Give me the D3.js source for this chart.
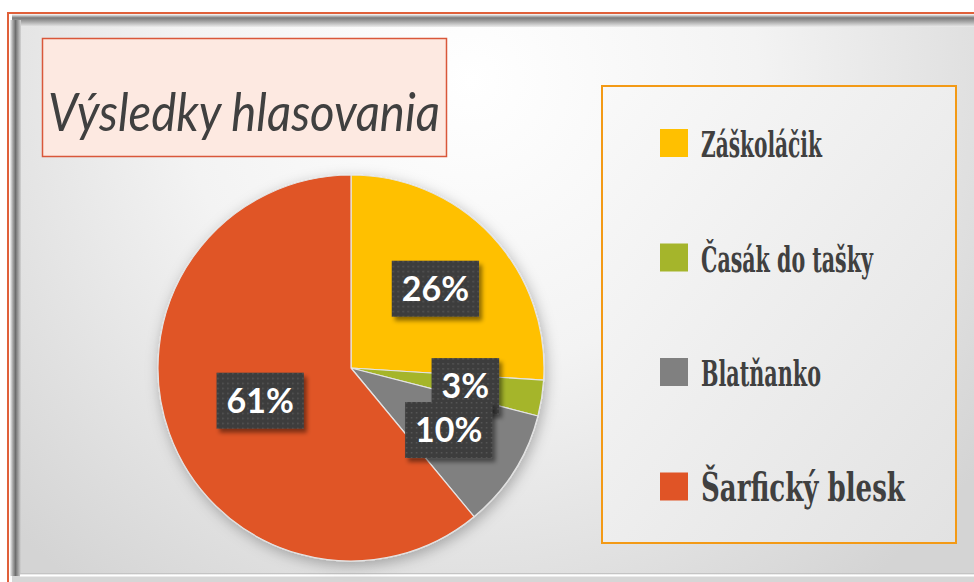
<!DOCTYPE html>
<html>
<head>
<meta charset="utf-8">
<script src="https://cdn.jsdelivr.net/npm/d3@7"></script>
<style>
  html, body { margin: 0; padding: 0; background: #fff; }
  svg { display: block; }
</style>
</head>
<body>
<div id="chart"></div>
<script>
const categories = ["Záškoláčik", "Časák do tašky", "Blatňanko", "Šarfický blesk"];
const values = [26, 3, 10, 61];
const chartTitle = "Výsledky hlasovania";

const dims = { width: 974, height: 582 };
const pieDims = { cx: 351, cy: 368, radius: 193 };
const legendDims = { x: 602, y: 86, w: 354, h: 457, swatch: 28, left: 58, first: 71, step: 114.5 };

const colorScale = d3.scaleOrdinal()
  .domain(categories)
  .range(["#FFC000", "#A5B52B", "#808080", "#E05426"]);

const svg = d3.select("#chart").append("svg")
  .attr("width", dims.width).attr("height", dims.height)
  .attr("xmlns", "http://www.w3.org/2000/svg");

const defs = svg.append("defs");

// squeeze a text horizontally so it spans the given width
function fitWidth(sel, x, y, target) {
  sel.each(function(d, i) {
    const w = this.getComputedTextLength();
    const tw = typeof target === "function" ? target(d, i) : target;
    d3.select(this).attr("x", 0).attr("y", 0)
      .attr("transform", `translate(${x} ${y}) scale(${tw / w} 1)`);
  });
}

// panel background
const bg = defs.append("radialGradient").attr("id", "bgGrad")
  .attr("gradientUnits", "userSpaceOnUse")
  .attr("cx", 470).attr("cy", 80).attr("r", 640);
bg.append("stop").attr("offset", "0%").attr("stop-color", "#ffffff");
bg.append("stop").attr("offset", "45%").attr("stop-color", "#f3f3f3");
bg.append("stop").attr("offset", "100%").attr("stop-color", "#d4d4d4");

const topBevel = defs.append("linearGradient").attr("id", "topBevel")
  .attr("x1", 0).attr("y1", 0).attr("x2", 0).attr("y2", 1);
topBevel.append("stop").attr("offset", "0%").attr("stop-color", "#ffffff");
topBevel.append("stop").attr("offset", "30%").attr("stop-color", "#7a7a7a");
topBevel.append("stop").attr("offset", "55%").attr("stop-color", "#a0a0a0");
topBevel.append("stop").attr("offset", "100%").attr("stop-color", "#ececec", 0);

const leftBevel = defs.append("linearGradient").attr("id", "leftBevel")
  .attr("x1", 0).attr("y1", 0).attr("x2", 1).attr("y2", 0);
leftBevel.append("stop").attr("offset", "0%").attr("stop-color", "#f4f4f4");
leftBevel.append("stop").attr("offset", "25%").attr("stop-color", "#a8a8a8");
leftBevel.append("stop").attr("offset", "50%").attr("stop-color", "#6e6e6e");
leftBevel.append("stop").attr("offset", "100%").attr("stop-color", "#d4d4d4");

const legendGrad = defs.append("linearGradient").attr("id", "legendGrad")
  .attr("x1", 0).attr("y1", 0).attr("x2", 1).attr("y2", 1);
legendGrad.append("stop").attr("offset", "0%").attr("stop-color", "#f9f9f9");
legendGrad.append("stop").attr("offset", "100%").attr("stop-color", "#e2e2e2");

const pieShadow = defs.append("filter").attr("id", "pieShadow")
  .attr("x", "-20%").attr("y", "-20%").attr("width", "140%").attr("height", "140%");
pieShadow.append("feDropShadow").attr("dx", 2).attr("dy", 4)
  .attr("stdDeviation", 7).attr("flood-color", "#000").attr("flood-opacity", 0.28);

const boxShadow = defs.append("filter").attr("id", "boxShadow")
  .attr("x", "-20%").attr("y", "-20%").attr("width", "150%").attr("height", "150%");
boxShadow.append("feDropShadow").attr("dx", 3).attr("dy", 4)
  .attr("stdDeviation", 2).attr("flood-color", "#000").attr("flood-opacity", 0.45);

const dots = defs.append("pattern").attr("id", "dots")
  .attr("patternUnits", "userSpaceOnUse").attr("width", 5).attr("height", 5);
dots.append("rect").attr("width", 5).attr("height", 5).attr("fill", "#3d3d3d");
dots.append("rect").attr("x", 2).attr("y", 2).attr("width", 1.5).attr("height", 1.5)
  .attr("fill", "#595959");

// frame
svg.append("rect").attr("x", 9).attr("y", 13).attr("width", dims.width).attr("height", dims.height)
  .attr("fill", "#ffffff");
svg.append("rect").attr("x", 12).attr("y", 17).attr("width", dims.width).attr("height", 559)
  .attr("fill", "url(#bgGrad)");
svg.append("rect").attr("x", 12).attr("y", 14).attr("width", dims.width).attr("height", 13)
  .attr("fill", "url(#topBevel)");
svg.append("rect").attr("x", 10).attr("y", 20).attr("width", 11).attr("height", 556)
  .attr("fill", "url(#leftBevel)");
svg.append("rect").attr("x", 12).attr("y", 576).attr("width", dims.width).attr("height", 6)
  .attr("fill", "#d6d6d6");
svg.append("line").attr("x1", 20).attr("x2", dims.width).attr("y1", 573.5).attr("y2", 573.5)
  .attr("stroke", "#c4c4c4").attr("stroke-width", 1);
svg.append("line").attr("x1", 20).attr("x2", dims.width).attr("y1", 575.5).attr("y2", 575.5)
  .attr("stroke", "#ffffff").attr("stroke-width", 2);
svg.append("path").attr("d", `M8,${dims.height} V13 H${dims.width}`)
  .attr("fill", "none").attr("stroke", "#E0603A").attr("stroke-width", 2);

// title
svg.append("rect").attr("x", 42.5).attr("y", 38.5).attr("width", 404).attr("height", 118)
  .attr("fill", "#FDE9E1").attr("stroke", "#D9573A").attr("stroke-width", 1.5);
svg.append("text")
  .attr("font-family", "Lato, 'Open Sans', sans-serif").attr("font-style", "italic")
  .attr("font-size", 52).attr("fill", "#404040")
  .text(chartTitle)
  .call(fitWidth, 48, 131, 392);

// pie
const pie = d3.pie().sort(null).value(d => d.value);
const arcs = pie(categories.map((c, i) => ({ name: c, value: values[i] })));
const total = d3.sum(values);
const arc = d3.arc().innerRadius(0).outerRadius(pieDims.radius);
const biggest = d3.max(values);

const pieG = svg.append("g").attr("transform", `translate(${pieDims.cx} ${pieDims.cy})`);
pieG.append("g").attr("filter", "url(#pieShadow)")
  .selectAll("path").data(arcs).join("path")
    .attr("d", arc)
    .attr("fill", d => colorScale(d.data.name))
    .attr("stroke", "#e4e4e4").attr("stroke-width", 1.2).attr("stroke-linejoin", "round");

const labelG = pieG.append("g");
arcs.forEach(d => {
  const k = d.data.value === biggest ? 0.5 : 0.6;
  const [lx, ly] = d3.arc().innerRadius(pieDims.radius * k).outerRadius(pieDims.radius * k).centroid(d);
  const g = labelG.append("g").attr("transform", `translate(${lx} ${ly})`);
  const box = g.append("rect").attr("fill", "url(#dots)").attr("filter", "url(#boxShadow)");
  const t = g.append("text")
    .attr("text-anchor", "middle").attr("dy", "0.36em")
    .attr("font-family", "Lato, 'Open Sans', sans-serif").attr("font-weight", "bold")
    .attr("font-size", 34).attr("fill", "#ffffff")
    .text(d3.format(".0%")(d.data.value / total));
  const w = t.node().getComputedTextLength() + 20;
  box.attr("x", -w / 2).attr("y", -28).attr("width", w).attr("height", 56);
});

// legend
const legend = svg.append("g").attr("transform", `translate(${legendDims.x} ${legendDims.y})`);
legend.append("rect").attr("width", legendDims.w).attr("height", legendDims.h)
  .attr("fill", "url(#legendGrad)").attr("stroke", "#F39A16").attr("stroke-width", 2);

const legendWidths = [121, 172, 120, 204];
const item = legend.selectAll("g.item").data(categories).join("g")
  .attr("class", "item")
  .attr("transform", (d, i) => `translate(${legendDims.left} ${legendDims.first + i * legendDims.step})`);
item.append("rect")
  .attr("y", -legendDims.swatch).attr("width", legendDims.swatch).attr("height", legendDims.swatch)
  .attr("fill", d => colorScale(d));
item.append("text")
  .attr("font-family", "'DejaVu Serif Condensed', 'DejaVu Serif', 'Liberation Serif', serif")
  .attr("font-weight", "bold")
  .attr("font-size", (d, i) => i === 3 ? 40 : 35)
  .attr("fill", "#404040")
  .text(d => d)
  .call(fitWidth, 41, 0, (d, i) => legendWidths[i]);
</script>
</body>
</html>
